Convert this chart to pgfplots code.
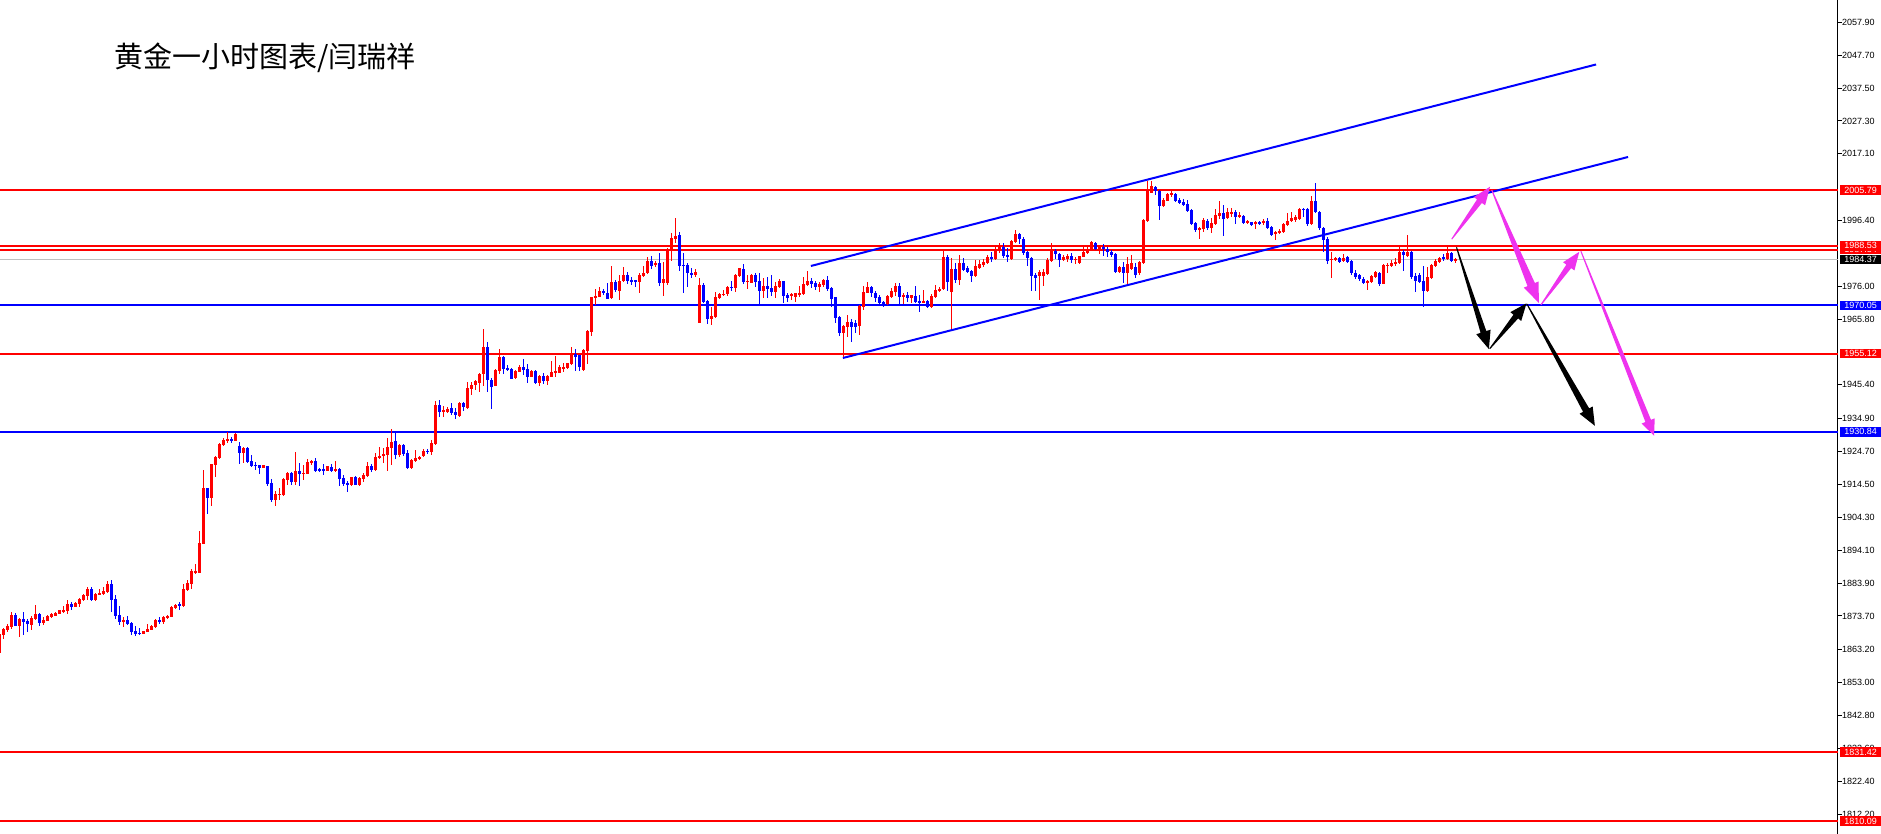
\documentclass[border=0pt]{standalone}
\usepackage{pgfplots}
\pgfplotsset{compat=1.18}
\usepackage{pgfplotstable}
\usepackage{fontspec}
\setmainfont{Liberation Sans}
\newfontfamily\cjk{Noto Sans CJK SC}
\usetikzlibrary{calc}

\definecolor{upred}{RGB}{255,0,0}
\definecolor{dnblue}{RGB}{0,0,255}
\definecolor{pinkarrow}{RGB}{238,51,238}
\definecolor{lastgrey}{RGB}{192,192,192}

% hourly candles: index, open, high, low, close
\pgfplotstableread{
j o h l c
0 1862.3 1868.3 1862.0 1868.1
1 1867.8 1869.9 1866.6 1869.6
2 1869.4 1871.2 1868.8 1870.6
3 1870.4 1874.9 1869.8 1874.0
4 1874.0 1874.6 1870.6 1870.7
5 1870.7 1873.0 1867.3 1872.8
6 1872.7 1874.9 1867.8 1871.8
7 1872.1 1872.7 1868.8 1871.1
8 1870.9 1873.7 1869.4 1873.0
9 1872.8 1877.1 1872.5 1874.2
10 1874.4 1874.7 1870.7 1871.6
11 1871.6 1873.3 1870.9 1872.5
12 1872.3 1874.0 1872.0 1873.7
13 1873.5 1874.7 1873.2 1874.3
14 1873.8 1875.0 1873.7 1874.5
15 1874.3 1875.6 1874.2 1875.4
16 1874.8 1876.7 1874.5 1875.6
17 1875.2 1878.7 1874.3 1877.4
18 1877.5 1878.0 1875.4 1876.6
19 1876.6 1877.9 1876.4 1877.7
20 1877.4 1879.4 1876.6 1879.0
21 1878.7 1880.4 1878.4 1880.2
22 1880.0 1882.8 1878.5 1882.1
23 1882.1 1882.6 1878.5 1878.7
24 1878.7 1880.9 1878.4 1880.5
25 1880.3 1882.0 1880.1 1880.9
26 1880.5 1882.6 1880.3 1881.5
27 1881.0 1884.6 1880.8 1883.6
28 1883.6 1884.9 1874.9 1878.8
29 1879.0 1880.2 1872.9 1873.8
30 1874.0 1876.8 1871.0 1871.9
31 1871.8 1873.5 1870.4 1872.5
32 1872.5 1873.7 1870.8 1871.2
33 1871.6 1871.9 1867.9 1868.8
34 1869.0 1870.6 1867.6 1868.2
35 1868.4 1870.1 1867.9 1868.2
36 1868.2 1869.1 1868.1 1868.9
37 1868.7 1871.2 1868.6 1869.7
38 1869.5 1870.8 1869.2 1870.6
39 1870.2 1872.9 1869.9 1872.5
40 1872.6 1873.3 1871.2 1871.8
41 1871.7 1873.7 1871.2 1873.3
42 1873.0 1874.0 1872.7 1873.8
43 1873.4 1876.8 1873.3 1876.5
44 1876.1 1877.5 1875.8 1877.1
45 1877.3 1878.1 1875.6 1877.1
46 1876.9 1883.5 1876.6 1882.1
47 1881.8 1884.9 1881.6 1884.0
48 1883.6 1888.3 1882.1 1887.7
49 1887.2 1889.8 1886.7 1887.7
50 1887.1 1900.1 1886.9 1896.2
51 1896.0 1919.0 1895.9 1913.4
52 1913.4 1913.5 1905.3 1910.3
53 1910.3 1921.0 1907.8 1920.9
54 1920.5 1923.3 1916.9 1923.1
55 1922.6 1927.5 1922.3 1927.2
56 1926.8 1928.8 1926.5 1928.3
57 1928.1 1930.9 1927.5 1928.6
58 1928.7 1929.1 1927.5 1928.1
59 1928.1 1930.5 1927.9 1930.3
60 1926.4 1927.8 1921.0 1924.4
61 1924.4 1926.2 1921.2 1925.9
62 1925.9 1926.2 1921.1 1921.4
63 1921.8 1923.6 1919.9 1920.3
64 1920.5 1921.6 1919.0 1920.3
65 1920.5 1920.6 1917.9 1919.6
66 1919.6 1920.6 1919.5 1920.4
67 1920.2 1920.3 1914.1 1914.6
68 1915.0 1916.1 1909.2 1909.7
69 1909.7 1912.6 1907.9 1911.5
70 1911.3 1913.4 1909.7 1911.5
71 1911.1 1916.4 1910.9 1916.2
72 1915.9 1918.4 1914.3 1918.2
73 1918.2 1918.4 1914.4 1915.3
74 1915.3 1924.7 1914.4 1918.7
75 1918.7 1921.2 1914.0 1917.8
76 1917.9 1920.5 1915.9 1918.0
77 1917.9 1922.3 1917.7 1921.5
78 1921.3 1922.1 1920.6 1921.8
79 1921.7 1922.7 1918.4 1918.7
80 1919.2 1919.5 1918.4 1918.7
81 1919.1 1920.9 1917.4 1918.9
82 1918.8 1920.3 1918.7 1920.2
83 1919.9 1920.9 1918.4 1918.7
84 1918.6 1921.8 1918.3 1919.3
85 1919.3 1919.7 1914.0 1916.2
86 1916.5 1917.4 1914.1 1914.6
87 1915.1 1915.5 1912.2 1914.3
88 1914.2 1916.8 1914.0 1916.7
89 1916.9 1917.1 1914.2 1914.4
90 1914.3 1916.8 1914.0 1916.6
91 1916.1 1918.0 1915.3 1917.4
92 1917.1 1921.5 1916.7 1920.2
93 1920.2 1920.8 1918.4 1919.0
94 1919.0 1924.2 1918.8 1923.0
95 1922.7 1926.2 1922.5 1923.4
96 1923.2 1925.7 1921.1 1924.0
97 1923.6 1929.0 1918.8 1926.1
98 1925.9 1931.6 1920.6 1927.7
99 1928.0 1931.2 1922.5 1923.6
100 1923.6 1927.1 1922.9 1926.8
101 1926.8 1927.0 1923.3 1923.9
102 1924.4 1925.2 1919.3 1919.5
103 1919.6 1922.3 1919.2 1922.1
104 1921.7 1925.2 1921.4 1922.7
105 1922.4 1923.4 1922.1 1923.1
106 1923.4 1925.5 1923.1 1925.0
107 1924.9 1925.6 1924.1 1924.6
108 1924.6 1928.3 1923.5 1927.4
109 1927.1 1940.4 1926.8 1939.2
110 1939.2 1940.7 1935.5 1937.1
111 1937.0 1938.8 1935.5 1937.6
112 1936.9 1938.6 1936.6 1937.9
113 1938.1 1939.7 1936.1 1936.6
114 1937.1 1938.1 1934.9 1935.9
115 1935.8 1940.2 1935.3 1939.9
116 1939.9 1940.0 1937.4 1938.4
117 1938.1 1946.4 1937.9 1944.5
118 1944.0 1946.4 1942.3 1945.4
119 1945.3 1946.8 1943.8 1946.6
120 1946.1 1949.2 1943.3 1948.8
121 1948.7 1962.7 1944.9 1957.2
122 1957.3 1958.8 1943.3 1946.9
123 1946.9 1947.4 1937.9 1944.9
124 1945.2 1950.4 1944.9 1950.0
125 1949.7 1956.5 1948.7 1954.1
126 1954.1 1954.4 1948.8 1950.2
127 1950.5 1951.5 1949.7 1950.1
128 1950.3 1950.5 1947.1 1947.3
129 1947.5 1950.0 1947.3 1949.6
130 1949.5 1951.6 1949.4 1951.1
131 1950.9 1953.3 1948.4 1950.0
132 1950.3 1951.9 1946.1 1948.0
133 1948.0 1950.0 1947.7 1949.7
134 1949.7 1950.0 1945.7 1945.9
135 1946.1 1948.5 1945.1 1948.2
136 1948.2 1949.2 1945.7 1946.6
137 1946.6 1948.6 1945.4 1948.3
138 1948.0 1952.9 1947.7 1949.3
139 1949.0 1954.4 1947.7 1949.6
140 1949.2 1951.6 1949.0 1950.9
141 1950.3 1952.1 1949.5 1951.1
142 1950.5 1952.3 1950.2 1952.1
143 1951.9 1957.2 1951.7 1955.1
144 1955.1 1956.5 1949.8 1954.2
145 1954.6 1954.8 1949.8 1950.8
146 1949.9 1956.5 1949.7 1956.1
147 1955.9 1962.4 1952.0 1962.2
148 1961.8 1972.8 1960.6 1972.6
149 1972.4 1975.1 1970.2 1973.0
150 1972.8 1975.7 1972.6 1974.4
151 1974.6 1975.3 1973.3 1974.1
152 1973.8 1976.9 1972.0 1972.2
153 1972.2 1982.3 1972.0 1977.4
154 1977.4 1978.0 1974.1 1974.7
155 1974.6 1979.4 1971.7 1977.7
156 1977.7 1982.1 1977.4 1979.5
157 1979.5 1980.4 1976.7 1977.7
158 1977.9 1978.8 1976.3 1977.3
159 1977.8 1978.0 1975.7 1977.4
160 1977.2 1980.0 1974.0 1979.5
161 1979.3 1982.3 1979.0 1980.2
162 1980.0 1985.0 1979.8 1983.8
163 1983.8 1985.4 1981.3 1982.4
164 1982.5 1983.8 1982.1 1983.3
165 1983.3 1986.2 1976.1 1977.1
166 1977.1 1983.6 1973.0 1978.3
167 1977.1 1987.8 1976.4 1987.5
168 1987.3 1992.4 1984.0 1991.1
169 1990.7 1997.1 1989.3 1991.6
170 1991.8 1992.7 1980.8 1982.4
171 1982.6 1986.2 1974.0 1982.3
172 1982.5 1983.1 1975.9 1980.2
173 1980.2 1981.6 1978.7 1979.6
174 1979.6 1981.3 1978.8 1980.5
175 1964.7 1978.5 1964.5 1976.4
176 1976.4 1977.0 1970.8 1971.2
177 1971.5 1971.7 1964.3 1965.8
178 1965.8 1969.7 1964.0 1966.9
179 1966.6 1974.3 1966.3 1972.6
180 1972.5 1973.8 1972.0 1973.5
181 1973.3 1974.7 1973.0 1973.7
182 1973.5 1976.2 1973.0 1975.7
183 1975.9 1977.7 1974.6 1975.6
184 1975.6 1979.8 1974.3 1979.5
185 1979.2 1981.8 1979.0 1981.6
186 1981.4 1982.9 1976.7 1977.4
187 1977.4 1979.5 1975.2 1977.6
188 1977.1 1979.7 1976.9 1979.5
189 1979.5 1980.2 1975.9 1977.4
190 1977.6 1980.0 1970.5 1974.5
191 1974.6 1978.5 1972.3 1976.1
192 1976.1 1978.8 1972.2 1975.1
193 1975.5 1979.4 1973.0 1974.3
194 1974.2 1977.4 1972.3 1976.2
195 1975.8 1978.3 1975.4 1977.6
196 1977.6 1977.7 1970.9 1973.1
197 1973.4 1973.8 1971.2 1972.5
198 1972.9 1974.0 1971.7 1973.6
199 1972.6 1974.0 1971.2 1973.8
200 1973.3 1976.1 1972.6 1973.8
201 1973.6 1978.9 1973.4 1976.6
202 1976.3 1980.7 1976.1 1977.6
203 1977.6 1978.5 1975.4 1976.7
204 1977.1 1977.6 1975.0 1975.7
205 1975.9 1977.2 1974.3 1976.6
206 1976.3 1978.3 1975.7 1978.0
207 1977.8 1979.2 1974.6 1975.2
208 1975.6 1975.9 1969.6 1972.2
209 1972.6 1972.8 1964.5 1966.3
210 1966.5 1966.7 1960.7 1961.4
211 1961.5 1964.1 1954.0 1963.8
212 1963.3 1967.1 1960.4 1965.0
213 1964.9 1965.7 1958.8 1963.5
214 1964.7 1965.5 1961.4 1963.5
215 1963.7 1970.2 1960.9 1970.0
216 1969.7 1976.1 1968.6 1974.2
217 1974.0 1977.4 1973.8 1975.9
218 1975.9 1976.1 1972.8 1973.8
219 1973.8 1974.6 1971.2 1972.4
220 1972.8 1973.3 1970.5 1970.7
221 1971.1 1971.5 1969.7 1970.3
222 1970.5 1973.3 1970.2 1973.0
223 1972.8 1975.4 1972.3 1974.5
224 1974.2 1977.1 1973.1 1976.1
225 1976.1 1977.1 1970.5 1972.8
226 1972.8 1973.8 1970.5 1973.3
227 1973.3 1974.1 1971.2 1972.2
228 1972.3 1973.4 1970.7 1973.2
229 1973.0 1976.1 1970.7 1971.1
230 1971.3 1973.3 1968.1 1970.9
231 1970.9 1974.9 1970.7 1971.4
232 1971.3 1971.7 1969.3 1969.6
233 1969.6 1973.6 1969.4 1973.0
234 1972.6 1976.3 1972.3 1975.0
235 1974.6 1975.9 1974.3 1975.3
236 1975.1 1987.3 1974.9 1985.2
237 1985.1 1985.7 1974.6 1977.2
238 1974.3 1984.7 1962.6 1981.3
239 1981.3 1983.1 1976.9 1978.0
240 1978.0 1985.7 1976.4 1983.3
241 1983.3 1984.7 1980.7 1981.1
242 1981.8 1982.4 1980.0 1980.4
243 1980.6 1981.0 1977.4 1979.2
244 1979.3 1984.2 1979.0 1982.3
245 1981.7 1984.2 1981.2 1982.9
246 1982.5 1984.4 1982.1 1983.5
247 1983.1 1985.7 1982.8 1985.0
248 1985.0 1986.7 1983.4 1984.5
249 1984.4 1988.1 1984.2 1987.0
250 1986.9 1989.5 1986.4 1988.5
251 1988.3 1989.3 1984.7 1985.4
252 1985.6 1987.8 1983.6 1985.0
253 1984.6 1990.4 1984.2 1990.0
254 1989.8 1993.5 1989.5 1992.2
255 1992.2 1992.4 1989.1 1990.6
256 1990.8 1991.2 1985.7 1986.4
257 1986.6 1986.9 1982.3 1984.7
258 1984.9 1985.2 1974.5 1979.2
259 1979.5 1980.0 1974.6 1978.5
260 1979.2 1981.0 1971.7 1980.5
261 1979.3 1981.3 1976.1 1980.3
262 1979.7 1984.7 1979.5 1984.2
263 1983.9 1989.3 1983.6 1987.3
264 1987.0 1987.5 1984.6 1985.9
265 1986.0 1986.4 1982.1 1984.2
266 1984.2 1985.7 1983.8 1985.0
267 1984.4 1986.0 1983.6 1985.5
268 1985.4 1986.4 1983.1 1984.3
269 1984.2 1985.0 1982.9 1984.6
270 1983.3 1985.5 1982.9 1985.4
271 1985.2 1988.3 1985.0 1986.6
272 1986.2 1988.3 1985.9 1987.7
273 1987.5 1990.0 1987.0 1989.8
274 1989.5 1989.6 1987.3 1987.7
275 1987.5 1988.8 1985.9 1988.1
276 1988.1 1989.0 1985.5 1987.5
277 1987.5 1988.1 1985.2 1986.6
278 1986.7 1987.3 1985.2 1985.8
279 1986.0 1986.2 1980.2 1980.5
280 1980.3 1982.3 1980.0 1981.9
281 1982.1 1983.4 1976.9 1980.0
282 1980.2 1985.2 1976.7 1982.8
283 1981.5 1985.7 1981.0 1983.1
284 1981.9 1983.3 1978.5 1979.5
285 1980.0 1983.8 1979.5 1983.5
286 1983.3 1996.9 1982.9 1996.6
287 1996.4 2008.8 1996.1 2005.4
288 2005.0 2008.8 2004.8 2007.1
289 2006.9 2007.1 2004.3 2005.4
290 2005.7 2005.9 1996.6 2000.9
291 2000.9 2003.3 2000.5 2002.8
292 2002.5 2005.0 2002.3 2004.5
293 2004.4 2005.7 2003.8 2004.8
294 2004.6 2004.8 2002.3 2002.6
295 2002.8 2003.3 2001.4 2001.9
296 2002.2 2003.0 2000.9 2001.3
297 2001.5 2002.8 1999.1 1999.5
298 1999.7 1999.9 1995.0 1995.3
299 1995.7 1996.1 1992.9 1993.5
300 1993.5 1994.5 1990.7 1994.0
301 1993.7 1997.1 1992.9 1996.6
302 1996.4 1996.8 1993.5 1994.0
303 1994.0 1997.1 1992.4 1995.7
304 1995.3 2000.0 1995.0 1998.1
305 1997.8 2002.6 1996.8 1998.6
306 1998.6 2001.2 1991.6 1996.8
307 1997.1 2000.2 1996.8 1999.1
308 1998.6 2000.2 1997.4 1998.9
309 1998.9 1999.7 1995.3 1997.4
310 1997.4 1999.1 1997.1 1998.0
311 1997.8 1998.1 1995.3 1995.7
312 1995.7 1996.6 1995.3 1996.3
313 1995.8 1996.1 1994.7 1994.9
314 1995.2 1996.4 1993.9 1995.8
315 1995.8 1996.3 1995.0 1995.3
316 1995.5 1996.8 1994.9 1996.4
317 1996.4 1997.1 1993.9 1994.2
318 1994.5 1994.7 1991.6 1992.0
319 1992.2 1993.2 1990.4 1992.9
320 1992.6 1993.7 1992.2 1993.2
321 1992.8 1995.5 1992.4 1995.2
322 1995.0 1998.6 1994.8 1996.4
323 1996.3 1999.1 1996.1 1997.3
324 1996.5 1998.0 1996.1 1997.6
325 1996.8 2000.2 1996.6 1999.9
326 1999.9 2000.4 1997.4 1999.8
327 1999.9 2000.2 1994.8 1995.3
328 1995.3 2004.0 1995.0 2002.6
329 2002.5 2007.9 1998.6 1998.9
330 1999.1 1999.5 1993.5 1994.0
331 1994.2 1994.5 1986.7 1990.4
332 1990.8 1991.4 1982.9 1983.9
333 1984.2 1986.7 1978.7 1984.5
334 1984.2 1985.2 1983.8 1984.8
335 1984.9 1985.2 1983.1 1983.5
336 1983.9 1986.0 1983.6 1984.8
337 1985.0 1985.4 1983.3 1983.6
338 1983.8 1984.2 1979.5 1980.0
339 1980.2 1981.0 1978.2 1978.8
340 1979.5 1979.7 1977.7 1978.2
341 1978.4 1979.0 1976.6 1976.9
342 1976.9 1977.9 1975.0 1977.7
343 1977.4 1979.5 1977.1 1979.2
344 1979.0 1980.8 1978.5 1980.4
345 1980.2 1980.5 1976.1 1976.7
346 1976.7 1982.9 1976.6 1982.6
347 1982.3 1983.1 1980.0 1982.7
348 1982.4 1984.2 1981.9 1983.3
349 1982.9 1984.7 1982.3 1983.6
350 1983.1 1988.1 1982.9 1986.6
351 1986.6 1987.2 1980.7 1985.6
352 1985.5 1991.9 1985.2 1986.6
353 1986.6 1987.0 1978.2 1979.0
354 1979.2 1980.2 1974.3 1977.7
355 1979.5 1980.0 1977.1 1977.4
356 1977.6 1982.3 1969.7 1974.6
357 1974.6 1981.9 1974.3 1978.8
358 1978.5 1982.9 1978.2 1982.6
359 1982.3 1984.4 1982.1 1983.9
360 1983.6 1985.2 1983.1 1984.7
361 1985.0 1986.0 1983.8 1984.4
362 1984.5 1988.3 1984.2 1986.4
363 1986.4 1986.7 1983.5 1983.8
364 1983.8 1984.9 1983.1 1984.4
}\candles

\pgfplotsset{
  bull/.style={x filter/.expression={\thisrow{c}>=\thisrow{o} ? x : nan}},
  bear/.style={x filter/.expression={\thisrow{c}<\thisrow{o} ? x : nan}},
  stick/.style 2 args={draw=none, mark=none, forget plot, filter discard warning=false,
    error bars/y dir=both, error bars/y explicit, error bars/error mark=none,
    error bars/error bar style={draw=#1, line width=#2}},
}

% tapered arrow: start, tip, colour, head length, head half width, shaft half width
\newcommand\taper[6]{%
  \coordinate (tA) at (#1);
  \coordinate (tB) at (#2);
  \coordinate (tH) at ($(tB)!#4!(tA)$);
  \fill[#3] ($(tA)!0.5pt!90:(tB)$) -- ($(tH)!#6!90:(tB)$) -- ($(tH)!#5!90:(tB)$)
    -- (tB) -- ($(tH)!#5!-90:(tB)$) -- ($(tH)!#6!-90:(tB)$)
    -- ($(tA)!0.5pt!-90:(tB)$) -- cycle;
}

\begin{document}
\begin{tikzpicture}
\begin{axis}[
  at={(0,0)}, anchor=south west,
  scale only axis,
  width=1838pt, height=834pt,
  xmin=0.175, xmax=459.675,
  ymin=1806.05, ymax=2064.82,
  axis x line=none,
  axis y line*=right,
  y axis line style={-, black, line width=1pt},
  xtick=\empty,
  ytick={2057.9,2047.7,2037.5,2027.3,2017.1,1996.4,1976.0,1965.8,1945.4,1934.9,1924.7,1914.5,1904.3,1894.1,1883.9,1873.7,1863.2,1853.0,1842.8,1832.6,1822.4,1812.2},
  yticklabels={2057.90,2047.70,2037.50,2027.30,2017.10,1996.40,1976.00,1965.80,1945.40,1934.90,1924.70,1914.50,1904.30,1894.10,1883.90,1873.70,1863.20,1853.00,1842.80,1832.60,1822.40,1812.20},
  tick align=outside,
  major tick length=4pt,
  ytick style={black, line width=1pt},
  yticklabel style={anchor=west, inner sep=0pt, font=\fontsize{9}{9}\selectfont},
]

% level lines
\addplot[lastgrey, line width=1pt] coordinates {(0,1984.37) (460,1984.37)};
\addplot[upred, line width=2pt] coordinates {(0,2005.79) (460,2005.79)};
\addplot[upred, line width=2pt] coordinates {(0,1988.53) (460,1988.53)};
\addplot[upred, line width=2pt] coordinates {(0,1987.34) (460,1987.34)};
\addplot[dnblue, line width=2pt] coordinates {(0,1970.05) (460,1970.05)};
\addplot[upred, line width=2pt] coordinates {(0,1955.12) (460,1955.12)};
\addplot[dnblue, line width=2pt] coordinates {(0,1930.84) (460,1930.84)};
\addplot[upred, line width=2pt] coordinates {(0,1831.42) (460,1831.42)};
\addplot[upred, line width=2pt] coordinates {(0,1810.09) (460,1810.09)};

% channel
\addplot[dnblue, line width=2pt] coordinates {(202.9,1982.29) (399.2,2044.81)};
\addplot[dnblue, line width=2pt] coordinates {(210.9,1953.74) (407.2,2016.11)};

% candles
\addplot[bull, stick={upred}{1pt}] table[x=j, y expr={(\thisrow{h}+\thisrow{l})/2}, y error expr={(\thisrow{h}-\thisrow{l})/2}] {\candles};
\addplot[bear, stick={dnblue}{1pt}] table[x=j, y expr={(\thisrow{h}+\thisrow{l})/2}, y error expr={(\thisrow{h}-\thisrow{l})/2}] {\candles};
\addplot[bull, stick={upred}{3pt}] table[x=j, y expr={(\thisrow{o}+\thisrow{c})/2}, y error expr={max(abs(\thisrow{c}-\thisrow{o})/2,0.18)}] {\candles};
\addplot[bear, stick={dnblue}{3pt}] table[x=j, y expr={(\thisrow{o}+\thisrow{c})/2}, y error expr={max(abs(\thisrow{c}-\thisrow{o})/2,0.18)}] {\candles};

% arrow ends
\coordinate (a1) at (axis cs:363.1,1990.6);
\coordinate (a2) at (axis cs:372.7,2006.9);
\coordinate (a3) at (axis cs:373.1,2005.9);
\coordinate (a4) at (axis cs:384.9,1970.8);
\coordinate (a5) at (axis cs:385.4,1970.2);
\coordinate (a6) at (axis cs:395.0,1986.7);
\coordinate (a7) at (axis cs:395.4,1986.9);
\coordinate (a8) at (axis cs:413.7,1929.6);
\coordinate (b1) at (axis cs:364.3,1988.1);
\coordinate (b2) at (axis cs:372.4,1956.5);
\coordinate (b3) at (axis cs:372.6,1956.6);
\coordinate (b4) at (axis cs:381.8,1970.7);
\coordinate (b5) at (axis cs:381.9,1970.5);
\coordinate (b6) at (axis cs:398.9,1932.7);

% right-hand level boxes
\coordinate (r1) at (axis cs:459.675,2005.79);
\coordinate (r2) at (axis cs:459.675,1987.34);
\coordinate (r3) at (axis cs:459.675,1988.53);
\coordinate (r4) at (axis cs:459.675,1984.37);
\coordinate (r5) at (axis cs:459.675,1970.05);
\coordinate (r6) at (axis cs:459.675,1955.12);
\coordinate (r7) at (axis cs:459.675,1930.84);
\coordinate (r8) at (axis cs:459.675,1831.42);
\coordinate (r9) at (axis cs:459.675,1810.09);
\end{axis}

\taper{a1}{a2}{pinkarrow}{18pt}{7pt}{3pt}
\taper{a3}{a4}{pinkarrow}{20pt}{8pt}{4pt}
\taper{a5}{a6}{pinkarrow}{18pt}{7pt}{3pt}
\taper{a7}{a8}{pinkarrow}{16pt}{7pt}{3pt}
\taper{b1}{b2}{black}{18pt}{7.5pt}{3pt}
\taper{b3}{b4}{black}{17pt}{7pt}{3pt}
\taper{b5}{b6}{black}{18pt}{7.5pt}{3.5pt}

\tikzset{lvl/.style={fill=#1, text=white, anchor=west, xshift=2pt, inner sep=0pt,
  minimum width=41pt, minimum height=9.5pt, font=\fontsize{9}{9}\selectfont}}
\node[lvl=upred] at (r1) {2005.79};
\node[lvl=upred] at (r2) {1987.34};
\node[lvl=upred] at (r3) {1988.53};
\node[lvl=black] at (r4) {1984.37};
\node[lvl=dnblue] at (r5) {1970.05};
\node[lvl=upred] at (r6) {1955.12};
\node[lvl=dnblue] at (r7) {1930.84};
\node[lvl=upred] at (r8) {1831.42};
\node[lvl=upred] at (r9) {1810.09};

\node[font=\cjk\fontsize{29}{29}\selectfont, anchor=center] at (265pt,776.5pt) {黄金一小时图表/闫瑞祥};

\pgfresetboundingbox
\path[use as bounding box] (0,0) rectangle (1881pt,834pt);
\end{tikzpicture}
\end{document}
